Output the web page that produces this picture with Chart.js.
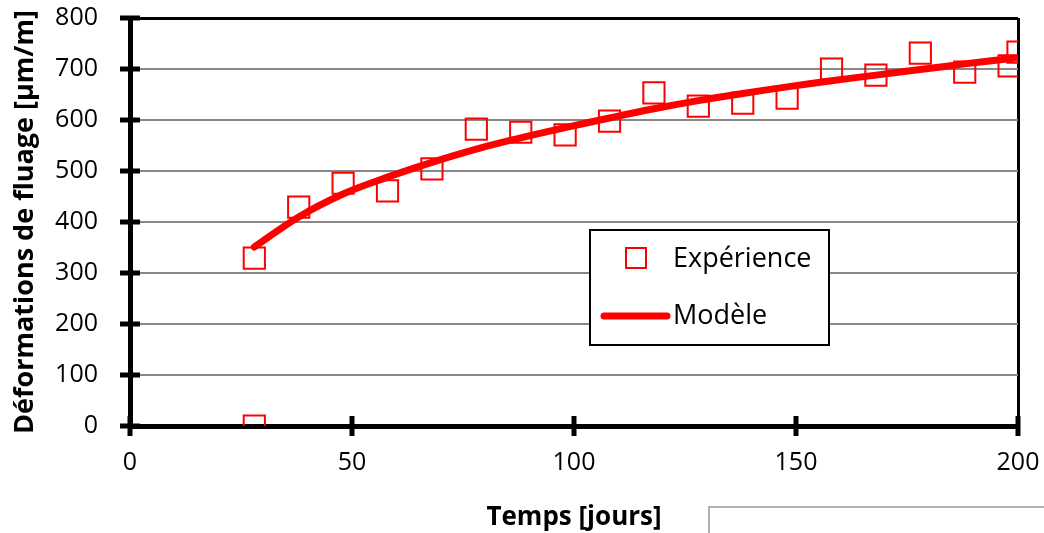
<!DOCTYPE html>
<html>
<head>
<meta charset="utf-8">
<script src="https://cdn.jsdelivr.net/npm/chart.js@4.4.0/dist/chart.umd.min.js"></script>
<style>
  body { margin: 0; background: #fff; }
  #wrap { position: relative; width: 1044px; height: 533px; }
  #box2 { position: absolute; left: 708px; top: 506px; width: 340px; height: 40px; border: 2px solid #b0b0b0; box-sizing: border-box; }
</style>
</head>
<body>
<div id="wrap">
  <canvas id="creep" width="1044" height="533"></canvas>
  <div id="box2"></div>
</div>
<script>
// creep test vs model
const expDays = [28, 28, 38, 48, 58, 68, 78, 88, 98, 108, 118, 128, 138, 148, 158, 168, 178, 188, 198, 200]
const expStrain = [0, 329, 429, 476, 461, 504, 582, 576, 571, 598, 653, 627, 633, 643, 700, 688, 731, 694, 706, 733]
const modDays = [28, 38, 48, 58, 68, 78, 88, 98, 108, 118, 128, 138, 148, 158, 168, 178, 188, 198, 200]
const modStrain = [351, 410, 455, 488, 517, 543, 565, 585, 604, 622, 638, 652, 665, 677, 688, 699, 710, 720, 722]
const xTicks = [0, 50, 100, 150, 200]
const yTicks = [0, 100, 200, 300, 400, 500, 600, 700, 800]

const FONT = "'Open Sans', sans-serif"

function pts(xs, ys) {
  let out = []
  for (let i = 0; i < xs.length; i++) out.push({x: xs[i], y: ys[i]})
  return out
}

// ticks that cross the axes, like the spreadsheet ones
const crossTicks = {
  id: 'crossTicks',
  afterDraw(chart) {
    const c = chart.ctx, a = chart.chartArea
    const xs = chart.scales.x, ys = chart.scales.y
    c.save()
    c.strokeStyle = '#000'
    c.lineWidth = 5
    c.beginPath()
    yTicks.forEach(v => {
      let y = ys.getPixelForValue(v)
      c.moveTo(a.left - 10, y); c.lineTo(a.left + 10, y)
    })
    xTicks.forEach(v => {
      let x = xs.getPixelForValue(v)
      c.moveTo(x, a.bottom - 10); c.lineTo(x, a.bottom + 10)
    })
    c.stroke()
    c.restore()
  }
}

// boxed legend sitting inside the plot
const boxLegend = {
  id: 'boxLegend',
  afterDraw(chart) {
    const c = chart.ctx
    const exp = chart.data.datasets[0], mod = chart.data.datasets[1]
    c.save()
    c.fillStyle = '#fff'
    c.fillRect(590, 230, 239, 115)
    c.strokeStyle = '#000'
    c.lineWidth = 2
    c.strokeRect(590, 230, 239, 115)
    c.strokeStyle = exp.borderColor
    c.lineWidth = 2
    c.strokeRect(626, 248, 20, 20)
    c.strokeStyle = mod.borderColor
    c.lineWidth = mod.borderWidth
    c.lineCap = 'round'
    c.beginPath(); c.moveTo(604, 316); c.lineTo(667, 316); c.stroke()
    c.fillStyle = '#000'
    c.font = '27px ' + FONT
    c.textBaseline = 'middle'
    c.fillText(exp.label, 673, 259)
    c.fillText(mod.label, 673, 316)
    c.restore()
  }
}

new Chart(document.getElementById('creep'), {
  type: 'scatter',
  data: {
    datasets: [
      {
        label: 'Expérience',
        data: pts(expDays, expStrain),
        pointStyle: 'rect',
        pointRadius: 15,
        borderColor: '#ff0000',
        backgroundColor: 'rgba(0,0,0,0)',
        borderWidth: 2,
        showLine: false,
        order: 1
      },
      {
        label: 'Modèle',
        data: pts(modDays, modStrain),
        borderColor: '#ff0000',
        borderWidth: 7,
        pointRadius: 0,
        showLine: true,
        tension: 0.4,
        borderCapStyle: 'round',
        order: 2
      }
    ]
  },
  options: {
    responsive: false,
    animation: false,
    layout: { padding: { left: 0, right: 26, top: 18, bottom: 0 } },
    plugins: { legend: { display: false }, tooltip: { enabled: false } },
    scales: {
      x: {
        type: 'linear', min: 0, max: 200,
        afterFit: s => { s.height = 107; s.paddingLeft = 0; s.paddingRight = 0 },
        afterBuildTicks: s => { s.ticks = xTicks.map(v => ({value: v})) },
        border: { color: '#000', width: 5 },
        grid: {
          drawTicks: false,
          lineWidth: 3,
          color: ctx => ctx.tick && ctx.tick.value === 200 ? '#000' : 'rgba(0,0,0,0)'
        },
        ticks: { color: '#000', padding: 22, maxRotation: 0, font: { family: FONT, size: 25 } },
        title: {
          display: true, text: 'Temps [jours]', color: '#000',
          font: { family: FONT, size: 26, weight: 'bold' },
          padding: 0
        }
      },
      y: {
        min: 0, max: 800,
        afterFit: s => { s.width = 130; s.paddingTop = 0; s.paddingBottom = 0 },
        afterBuildTicks: s => { s.ticks = yTicks.map(v => ({value: v})) },
        border: { color: '#000', width: 5 },
        grid: {
          drawTicks: false,
          lineWidth: ctx => ctx.tick && ctx.tick.value === 800 ? 3 : 2,
          color: ctx => ctx.tick && ctx.tick.value === 800 ? '#000' : '#888888'
        },
        ticks: { color: '#000', padding: 32, font: { family: FONT, size: 25 } },
        title: {
          display: true, text: 'Déformations de fluage [µm/m]', color: '#000',
          font: { family: FONT, size: 27, weight: 'bold', lineHeight: 1.85 },
          padding: 0
        }
      }
    }
  },
  plugins: [crossTicks, boxLegend]
})
</script>
</body>
</html>
